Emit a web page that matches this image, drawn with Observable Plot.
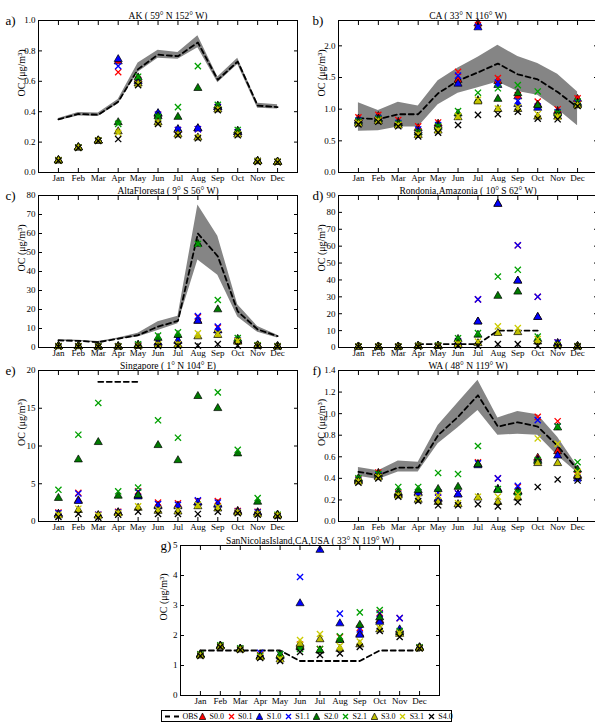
<!DOCTYPE html>
<html><head><meta charset="utf-8">
<script src="https://cdn.jsdelivr.net/npm/d3@7"></script>
<script src="https://cdn.jsdelivr.net/npm/@observablehq/plot@0.6"></script>
<style>
body{margin:0;background:#fff;overflow:hidden;}
#root{position:relative;width:595px;height:724px;overflow:hidden;font-family:"Liberation Serif","Times New Roman",serif;background:#fff;}
.panel{position:absolute;}
#legend{position:absolute;left:161px;top:710px;width:291px;height:12px;border:1px solid #000;font-size:8px;display:flex;align-items:center;white-space:nowrap;box-sizing:border-box;padding-left:3px;}
#legend .it{display:flex;align-items:center;width:28.6px;flex:none;}
#legend .it.obs{width:34px;}
#legend svg{margin-right:3.5px;flex:none;}
</style></head><body><div id="root"></div>
<script>
const months = ["Jan","Feb","Mar","Apr","May","Jun","Jul","Aug","Sep","Oct","Nov","Dec"];
const seriesNames = ["S0.0","S0.1","S1.0","S1.1","S2.0","S2.1","S3.0","S3.1","S4.0"];
const seriesColors = ["#ff0000","#ff0000","#0000ff","#0000ff","#007a00","#00a000","#bfbf00","#cccc00","#000000"];
const seriesSymbols = ["triangle","times","triangle","times","triangle","times","triangle","times","times"];

// ---- a) AK
const AK_obs = [0.35,0.385,0.38,0.465,0.68,0.775,0.765,0.855,0.61,0.73,0.44,0.43];
const AK_lo  = [0.34,0.372,0.368,0.45,0.66,0.752,0.745,0.82,0.59,0.71,0.422,0.418];
const AK_hi  = [0.356,0.395,0.392,0.48,0.72,0.805,0.79,0.9,0.628,0.752,0.456,0.446];
const AK_models = [
  [0.08,0.165,0.21,0.73,0.61,0.385,0.28,0.29,0.43,0.265,0.075,0.07],
  [0.08,0.165,0.21,0.66,0.61,0.38,0.28,0.285,0.43,0.265,0.075,0.07],
  [0.08,0.165,0.21,0.745,0.60,0.39,0.285,0.29,0.43,0.265,0.075,0.07],
  [0.08,0.165,0.21,0.70,0.605,0.38,0.28,0.285,0.43,0.265,0.075,0.07],
  [0.08,0.165,0.21,0.33,0.625,0.37,0.365,0.555,0.44,0.275,0.075,0.07],
  [0.08,0.165,0.21,0.32,0.63,0.365,0.43,0.70,0.445,0.28,0.075,0.07],
  [0.08,0.165,0.21,0.27,0.585,0.33,0.25,0.23,0.415,0.25,0.073,0.07],
  [0.08,0.163,0.21,0.26,0.58,0.325,0.25,0.23,0.415,0.25,0.073,0.07],
  [0.078,0.162,0.208,0.22,0.575,0.32,0.245,0.225,0.41,0.245,0.07,0.068]
];
// ---- b) CA
const CA_obs = [0.86,0.84,0.92,0.92,1.25,1.45,1.58,1.72,1.55,1.47,1.27,1.03];
const CA_lo  = [0.65,0.66,0.72,0.72,1.07,1.25,1.34,1.43,1.28,1.22,1.00,0.74];
const CA_hi  = [1.10,0.98,1.11,1.05,1.45,1.65,1.82,2.01,1.83,1.72,1.55,1.27];
const CA_models = [
  [0.85,0.89,0.80,0.70,0.77,1.46,2.35,1.44,1.20,1.07,0.97,1.16],
  [0.87,0.91,0.83,0.73,0.79,1.59,2.33,1.49,1.22,1.12,1.00,1.17],
  [0.82,0.85,0.78,0.66,0.74,1.40,2.29,1.38,1.08,1.02,0.95,1.10],
  [0.82,0.86,0.78,0.68,0.75,1.53,2.30,1.42,1.13,1.04,0.95,1.10],
  [0.80,0.84,0.77,0.63,0.72,0.93,1.14,1.16,1.25,1.06,0.93,1.08],
  [0.81,0.85,0.77,0.64,0.73,0.97,1.26,1.33,1.38,1.28,0.94,1.12],
  [0.77,0.81,0.74,0.59,0.66,0.87,1.12,1.00,1.00,0.88,0.88,1.06],
  [0.78,0.82,0.75,0.60,0.67,0.89,1.15,1.01,1.03,0.92,0.88,1.06],
  [0.76,0.80,0.73,0.57,0.63,0.75,0.91,0.92,0.96,0.85,0.84,1.05]
];
// ---- c) AltaFloresta
const AF_obs = [3.7,3.5,2.8,4.6,6.5,11,14,60,48,19,9.5,6];
const AF_lo  = [3.3,3.1,2.5,4.2,5.5,9,12.5,46,38,16,8,5];
const AF_hi  = [4.2,3.8,3.1,5.0,7.5,13.5,16.5,75,58.5,22.5,11,6.5];
const AF_models = [
  [0.7,0.7,0.6,0.6,1.0,2.5,3.5,14,9,3.5,1.0,0.6],
  [0.7,0.7,0.6,0.6,1.0,3.0,4.5,16,10.5,3.5,1.0,0.6],
  [0.7,0.7,0.6,0.6,1.0,2.5,3.5,14,9,3.5,1.0,0.6],
  [0.7,0.7,0.6,0.6,1.1,3.0,4.5,16.5,11,3.8,1.0,0.6],
  [0.7,0.7,0.6,0.6,1.5,5.0,6.5,54.5,20,4.5,1.1,0.6],
  [0.7,0.7,0.6,0.6,1.7,6.3,8.0,54.5,25,5.0,1.2,0.6],
  [0.6,0.6,0.5,0.5,0.8,1.3,1.5,5.8,6.5,3.0,0.9,0.5],
  [0.6,0.6,0.5,0.5,0.8,1.5,1.8,7.5,7.5,3.5,0.9,0.5],
  [0.5,0.5,0.4,0.4,0.5,0.8,0.8,1.0,1.8,1.0,0.7,0.4]
];
// ---- d) Rondonia
const RO_obs = [null,null,null,2,2,2,2,10,10,10,null,null];
const RO_models = [
  [0.5,0.5,0.5,1.0,1.0,3.0,15.3,85,39.5,18,2.5,0.7],
  [0.5,0.5,0.5,1.0,1.0,3.5,28.5,null,60.5,30,3.0,0.7],
  [0.5,0.5,0.5,1.0,1.0,3.0,15.3,85,39.5,18,2.5,0.7],
  [0.5,0.5,0.5,1.0,1.0,3.5,28.5,null,60.5,30,3.0,0.7],
  [0.5,0.5,0.5,1.0,1.0,5.0,7.5,30.5,33,5.0,1.5,0.7],
  [0.5,0.5,0.5,1.0,1.2,5.5,8.5,42,46,6.5,1.5,0.7],
  [0.5,0.5,0.5,0.8,0.8,2.0,2.5,8.5,9,3.5,1.2,0.6],
  [0.5,0.5,0.5,0.8,0.8,2.2,3.5,12.5,11.5,5.0,1.2,0.6],
  [0.4,0.4,0.4,0.5,0.6,1.0,1.0,2.0,2.0,1.0,0.8,0.5]
];
// ---- e) Singapore
const SG_obs = [null,null,18.5,18.5,18.5,null,null,null,null,null,null,null];
const SG_models = [
  [1.0,2.8,0.8,1.2,3.4,2.1,2.1,2.5,2.3,1.4,1.2,0.8],
  [1.2,3.8,0.9,1.3,4.0,2.5,2.4,2.7,2.7,1.4,1.3,0.8],
  [1.0,2.7,0.8,1.2,3.3,2.0,2.0,2.5,2.2,1.3,1.2,0.8],
  [1.1,3.7,0.9,1.2,3.9,2.3,2.2,2.8,2.5,1.3,1.2,0.8],
  [3.1,8.2,10.5,3.4,3.5,10.1,8.1,16.6,15.0,9.0,2.6,0.9],
  [4.2,11.5,15.7,4.0,4.5,13.4,11.1,null,17.1,9.5,3.1,0.9],
  [0.8,1.5,0.8,1.1,1.8,1.4,1.3,2.0,1.7,1.2,1.0,0.8],
  [0.9,1.7,0.8,1.1,2.0,1.6,1.5,2.2,1.9,1.2,1.0,0.8],
  [0.6,1.0,0.5,0.9,1.3,1.0,1.0,1.0,1.3,1.1,0.9,0.7]
];
// ---- f) WA
const WA_obs = [0.46,0.43,0.50,0.50,0.80,0.97,1.17,0.88,0.92,0.88,0.70,0.48];
const WA_lo  = [0.42,0.39,0.46,0.46,0.72,0.87,1.03,0.80,0.81,0.80,0.61,0.45];
const WA_hi  = [0.50,0.47,0.56,0.55,0.89,1.10,1.31,0.96,1.02,0.99,0.78,0.51];
const WA_models = [
  [0.39,0.45,0.26,0.27,0.21,0.25,0.53,0.30,0.28,0.59,0.65,0.43],
  [0.39,0.455,0.26,0.27,0.27,0.26,0.55,0.40,0.32,0.97,0.93,0.43],
  [0.38,0.42,0.25,0.26,0.21,0.25,0.52,0.30,0.28,0.57,0.61,0.40],
  [0.38,0.43,0.25,0.27,0.27,0.26,0.54,0.40,0.33,0.94,0.88,0.40],
  [0.40,0.44,0.27,0.29,0.30,0.32,0.53,0.29,0.27,0.56,0.87,0.48],
  [0.40,0.44,0.32,0.32,0.45,0.44,0.70,0.30,0.27,0.57,0.88,0.55],
  [0.37,0.41,0.24,0.20,0.18,0.16,0.22,0.18,0.22,0.54,0.54,0.42],
  [0.37,0.41,0.24,0.22,0.24,0.17,0.23,0.23,0.25,0.77,0.72,0.46],
  [0.36,0.40,0.23,0.19,0.15,0.15,0.16,0.14,0.18,0.32,0.39,0.38]
];
// ---- g) SanNicolasIsland
const SN_obs = [1.5,1.5,1.5,1.5,1.5,1.15,1.15,1.15,1.15,1.5,1.5,1.5];
const SN_models = [
  [1.37,1.66,1.56,1.30,1.35,1.65,1.50,1.85,2.05,2.50,2.15,1.60],
  [1.37,1.66,1.56,1.35,1.38,1.70,1.55,1.95,2.25,2.75,2.58,1.60],
  [1.36,1.65,1.55,1.32,1.30,3.07,4.85,2.40,2.02,2.45,2.20,1.60],
  [1.36,1.65,1.55,1.42,1.38,3.95,null,2.73,2.20,2.72,2.58,1.60],
  [1.36,1.66,1.56,1.30,1.35,1.60,1.50,1.85,2.35,2.60,2.10,1.60],
  [1.37,1.67,1.57,1.32,1.38,1.55,1.55,1.97,2.77,2.85,2.15,1.61],
  [1.33,1.63,1.53,1.28,1.20,1.72,1.87,1.55,1.70,2.20,2.05,1.58],
  [1.33,1.63,1.53,1.28,1.22,1.85,2.05,1.65,1.80,2.25,2.08,1.58],
  [1.32,1.62,1.52,1.25,1.15,1.45,1.35,1.40,1.62,2.15,1.95,1.57]
];

const root = document.getElementById("root");
const f1 = d3.format(".1f"), f0 = d3.format("d");
const serif = "'Liberation Serif','Times New Roman',serif";

function panel(cfg) {
  const {frameX, frameY, frameW = 259, frameH = 152, yDomain, yTicks, yFmt, title, letter, letterDx, obs, lo, hi, models} = cfg;
  const mL = 40, mR = 4, mT = 24, mB = 26;
  const obsRows = obs.map((v, i) => ({month: i + 1, v}));
  const bandRows = lo ? lo.map((v, i) => ({month: i + 1, lo: v, hi: hi[i]})) : [];
  const marks = [];
  if (lo) marks.push(Plot.areaY(bandRows, {x: "month", y1: "lo", y2: "hi", fill: "#858585"}));
  marks.push(Plot.lineY(obsRows, {x: "month", y: "v", stroke: "black", strokeWidth: 1.8, strokeDasharray: "5,3.5"}));
  models.forEach((vals, si) => {
    const rows = vals.map((v, i) => ({month: i + 1, v})).filter(d => d.v != null);
    const tri = seriesSymbols[si] === "triangle";
    marks.push(Plot.dot(rows, {
      x: "month", y: "v", symbol: seriesSymbols[si], r: tri ? 3 : 2.9,
      fill: tri ? seriesColors[si] : "none",
      stroke: tri ? "black" : seriesColors[si],
      strokeWidth: tri ? 0.7 : 1.3
    }));
  });
  marks.push(
    Plot.frame({stroke: "black", strokeWidth: 1}),
    Plot.axisX({anchor: "bottom", ticks: d3.range(1, 13), tickFormat: i => months[i - 1], tickSize: -4, tickPadding: 6, label: null, fontSize: 9}),
    Plot.axisX({anchor: "top", ticks: d3.range(1, 13), tickFormat: () => "", tickSize: -4, label: null}),
    Plot.axisY({anchor: "left", ticks: yTicks, tickFormat: yFmt, tickSize: -4, tickPadding: 7, fontSize: 9, label: null}),
    Plot.axisY({anchor: "right", ticks: yTicks, tickFormat: () => "", tickSize: -4, label: null}),
    Plot.text(["OC (μg/m³)"], {frameAnchor: "left", rotate: -90, dx: -17, fontSize: 10, text: d => d}),
    Plot.text([title], {frameAnchor: "top", dy: -2, lineAnchor: "bottom", fontSize: 9.5, text: d => d}),
    Plot.text([letter], {frameAnchor: "top-left", dx: letterDx, dy: 0, lineAnchor: "middle", textAnchor: "start", fontSize: 13, text: d => d})
  );
  const svg = Plot.plot({
    width: mL + frameW + mR, height: mT + frameH + mB,
    marginLeft: mL, marginRight: mR, marginTop: mT, marginBottom: mB,
    x: {domain: [0, 13]},
    y: {domain: yDomain},
    style: {fontFamily: serif, fontSize: "9px", background: "transparent", overflow: "visible", color: "black"},
    marks
  });
  svg.classList.add("panel");
  svg.style.left = (frameX - mL) + "px";
  svg.style.top = (frameY - mT) + "px";
  root.appendChild(svg);
}

panel({frameX: 38, frameY: 20, frameH: 152, yDomain: [0, 1], yTicks: d3.range(0, 1.01, 0.2), yFmt: f1,
  title: "AK ( 59° N 152° W)", letter: "a)", letterDx: -33, obs: AK_obs, lo: AK_lo, hi: AK_hi, models: AK_models});
panel({frameX: 338, frameY: 20, frameH: 152, yDomain: [0, 2.4], yTicks: [0, 0.5, 1, 1.5, 2], yFmt: f1,
  title: "CA ( 33° N 116° W)", letter: "b)", letterDx: -26, obs: CA_obs, lo: CA_lo, hi: CA_hi, models: CA_models});
panel({frameX: 38, frameY: 195, frameH: 152, yDomain: [0, 80], yTicks: d3.range(0, 81, 10), yFmt: f0,
  title: "AltaFloresta ( 9° S 56° W)", letter: "c)", letterDx: -33, obs: AF_obs, lo: AF_lo, hi: AF_hi, models: AF_models});
panel({frameX: 338, frameY: 195, frameH: 152, yDomain: [0, 90], yTicks: d3.range(0, 91, 10), yFmt: f0,
  title: "Rondonia,Amazonia ( 10° S 62° W)", letter: "d)", letterDx: -26, obs: RO_obs, models: RO_models});
panel({frameX: 38, frameY: 370, frameH: 151, yDomain: [0, 20], yTicks: [0, 5, 10, 15, 20], yFmt: f0,
  title: "Singapore ( 1° N 104° E)", letter: "e)", letterDx: -33, obs: SG_obs, models: SG_models});
panel({frameX: 338, frameY: 370, frameH: 151, yDomain: [0, 1.4], yTicks: d3.range(0, 1.41, 0.2), yFmt: f1,
  title: "WA ( 48° N 119° W)", letter: "f)", letterDx: -26, obs: WA_obs, lo: WA_lo, hi: WA_hi, models: WA_models});
panel({frameX: 180, frameY: 545, frameH: 150, yDomain: [0, 5], yTicks: [0, 1, 2, 3, 4, 5], yFmt: f0,
  title: "SanNicolasIsland,CA,USA ( 33° N 119° W)", letter: "g)", letterDx: -20, obs: SN_obs, models: SN_models});

// legend
const leg = document.createElement("div");
leg.id = "legend";
const ns = "http://www.w3.org/2000/svg";
function item(kind, color, label) {
  const it = document.createElement("span"); it.className = "it" + (kind === "obs" ? " obs" : "");
  const s = document.createElementNS(ns, "svg");
  const w = kind === "obs" ? 14 : 7;
  s.setAttribute("width", w); s.setAttribute("height", 9);
  if (kind === "obs") {
    s.innerHTML = `<line x1="0" y1="4.5" x2="14" y2="4.5" stroke="black" stroke-width="1.8" stroke-dasharray="5,4"/>`;
  } else if (kind === "triangle") {
    s.innerHTML = `<path d="M3.5,1 L6.8,7.5 L0.2,7.5 Z" fill="${color}" stroke="black" stroke-width="0.7"/>`;
  } else {
    s.innerHTML = `<path d="M1,2 L6,7 M6,2 L1,7" stroke="${color}" stroke-width="1.3"/>`;
  }
  it.appendChild(s);
  const t = document.createElement("span"); t.textContent = label; it.appendChild(t);
  leg.appendChild(it);
}
item("obs", "black", "OBS");
seriesNames.forEach((n, i) => item(seriesSymbols[i], seriesColors[i], n));
root.appendChild(leg);
</script></body></html>
